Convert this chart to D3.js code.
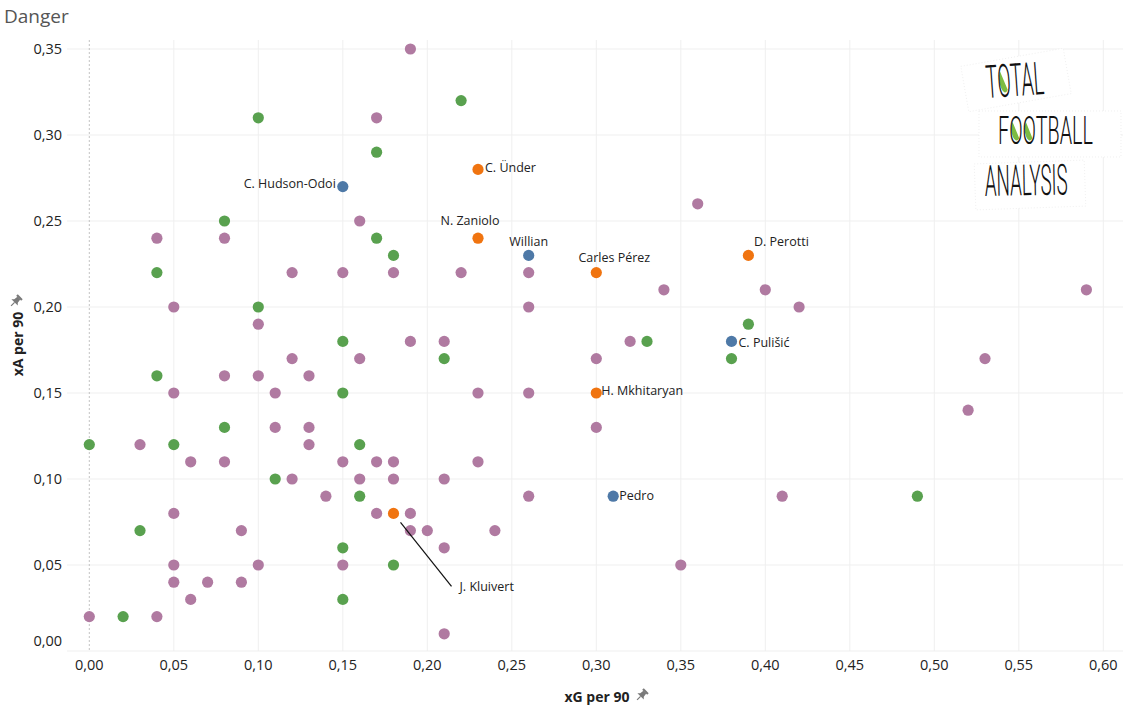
<!DOCTYPE html>
<html><head><meta charset="utf-8">
<script src="https://cdn.jsdelivr.net/npm/d3@7"></script>
<style>
body{margin:0;background:#fff;}
svg{display:block;font-family:'Open Sans','Noto Sans',sans-serif;}
</style></head><body><svg id="chart" width="1133" height="709"></svg>
<script>
// ---------------- data ----------------
const otherXG = [0.19,0.17,0.36,0.16,0.04,0.08,0.12,0.15,0.18,0.22,0.26,0.34,0.40,0.59,0.05,0.26,0.42,0.10,0.19,0.21,0.32,0.12,0.16,0.30,0.53,0.08,0.10,0.13,0.05,0.11,0.23,0.26,0.52,0.11,0.13,0.30,0.03,0.13,0.06,0.08,0.15,0.17,0.18,0.23,0.12,0.16,0.18,0.21,0.14,0.26,0.41,0.05,0.17,0.19,0.09,0.19,0.20,0.24,0.21,0.05,0.10,0.15,0.35,0.05,0.07,0.09,0.06,0.00,0.04,0.21];
const otherXA = [0.35,0.31,0.26,0.25,0.24,0.24,0.22,0.22,0.22,0.22,0.22,0.21,0.21,0.21,0.20,0.20,0.20,0.19,0.18,0.18,0.18,0.17,0.17,0.17,0.17,0.16,0.16,0.16,0.15,0.15,0.15,0.15,0.14,0.13,0.13,0.13,0.12,0.12,0.11,0.11,0.11,0.11,0.11,0.11,0.10,0.10,0.10,0.10,0.09,0.09,0.09,0.08,0.08,0.08,0.07,0.07,0.07,0.07,0.06,0.05,0.05,0.05,0.05,0.04,0.04,0.04,0.03,0.02,0.02,0.01];

const greenXG = [0.22,0.10,0.17,0.08,0.17,0.18,0.04,0.10,0.39,0.15,0.33,0.21,0.38,0.04,0.15,0.08,0.00,0.05,0.16,0.11,0.16,0.49,0.03,0.15,0.18,0.15,0.02];
const greenXA = [0.32,0.31,0.29,0.25,0.24,0.23,0.22,0.20,0.19,0.18,0.18,0.17,0.17,0.16,0.15,0.13,0.12,0.12,0.12,0.10,0.09,0.09,0.07,0.06,0.05,0.03,0.02];

const romaPlayers = ["C. Ünder","N. Zaniolo","D. Perotti","Carles Pérez","H. Mkhitaryan","J. Kluivert"];
const romaXG = [0.23,0.23,0.39,0.30,0.30,0.18];
const romaXA = [0.28,0.24,0.23,0.22,0.15,0.08];

const chelseaPlayers = ["C. Hudson-Odoi","Willian","C. Pulišić","Pedro"];
const chelseaXG = [0.15,0.26,0.38,0.31];
const chelseaXA = [0.27,0.23,0.18,0.09];

const xTicks = [0,0.05,0.10,0.15,0.20,0.25,0.30,0.35,0.40,0.45,0.50,0.55,0.60];
const xTickLabels = ["0,00","0,05","0,10","0,15","0,20","0,25","0,30","0,35","0,40","0,45","0,50","0,55","0,60"];
const yTicks = [0,0.05,0.10,0.15,0.20,0.25,0.30,0.35];
const yTickLabels = ["0,00","0,05","0,10","0,15","0,20","0,25","0,30","0,35"];

const titleText = "Danger";
const xTitle = "xG per 90";
const yTitle = "xA per 90";
const logoWords = ["TOTAL","FOOTBALL","ANALYSIS"];

// ---------------- styles / layout ----------------
const colors = {other:"#b07aa1", green:"#59a14f", roma:"#f07410", chelsea:"#4e79a7"};
const plot = {left:67, right:1123, top:40, bottom:651};
const labelStyle = {
  "C. Hudson-Odoi": {dx:-7, dy:-3, anchor:"end"},
  "C. Ünder": {dx:7, dy:-2, anchor:"start"},
  "N. Zaniolo": {dx:-8, dy:-18, anchor:"middle"},
  "Willian": {dx:0, dy:-14, anchor:"middle"},
  "Carles Pérez": {dx:18, dy:-15, anchor:"middle"},
  "D. Perotti": {dx:33, dy:-14, anchor:"middle"},
  "C. Pulišić": {dx:7, dy:1, anchor:"start"},
  "H. Mkhitaryan": {dx:5, dy:-2, anchor:"start"},
  "Pedro": {dx:6, dy:-1, anchor:"start"},
  "J. Kluivert": {dx:66, dy:73, anchor:"start", leader:{x1:7,y1:9,x2:58,y2:73}}
};

const svg = d3.select("#chart");
const x = d3.scaleLinear().domain([0,0.6]).range([89.3,1103.3]);
const y = d3.scaleLinear().domain([0,0.35]).range([651,49]);

// gridlines
const grid = svg.append("g");
grid.selectAll("line.v").data(xTicks.filter(d=>d>0)).join("line")
  .attr("x1",d=>x(d)).attr("x2",d=>x(d)).attr("y1",plot.top).attr("y2",plot.bottom)
  .attr("stroke","#efefef").attr("stroke-width",1);
grid.selectAll("line.h").data(yTicks).join("line")
  .attr("x1",plot.left).attr("x2",plot.right).attr("y1",d=>y(d)).attr("y2",d=>y(d))
  .attr("stroke","#efefef").attr("stroke-width",1);
grid.append("line").attr("x1",x(0)).attr("x2",x(0)).attr("y1",plot.top).attr("y2",plot.bottom)
  .attr("stroke","#c4c4c4").attr("stroke-width",1).attr("stroke-dasharray","2,2");

// logo (white patches + text)
const logo = svg.append("g").attr("class","logo");
function patch(cx,cy,w,h,rot){
  logo.append("rect").attr("x",cx-w/2).attr("y",cy-h/2).attr("width",w).attr("height",h)
    .attr("fill","#fff").attr("stroke","#e6e6e6").attr("stroke-width",0.6).attr("stroke-dasharray","1,2")
    .attr("transform",`rotate(${rot},${cx},${cy})`);
}
patch(1016,80,104,46,-10);
patch(1050,134,142,46,0);
patch(1030,185,110,46,-2);
function logoWord(txt,x0,yBase,w,h,rot,oIdx){
  const fs = 20;
  const g = logo.append("g");
  const greens = g.append("g");
  const t = g.append("text").attr("x",0).attr("y",0).text(txt)
    .attr("font-family","'Liberation Sans Narrow','Roboto','DejaVu Sans',sans-serif")
    .attr("font-weight","300").attr("font-size",fs).attr("fill","#111");
  const len = t.node().getComputedTextLength();
  const sx = w/len, sy = (h/0.72)/fs;
  g.attr("transform",`translate(${x0},${yBase}) rotate(${rot}) scale(${sx},${sy})`);
  oIdx.forEach(i=>{
    const e = t.node().getExtentOfChar(i);
    const cx = e.x+e.width/2, cy = -fs*0.36, rx = e.width*0.36, ry = fs*0.3;
    greens.append("path")
      .attr("d",`M${cx-rx*0.7},${cy-ry*0.7} A${rx},${ry} 0 0 0 ${cx+rx*0.7},${cy+ry*0.7} Z`)
      .attr("fill","#7dbb42");
  });
}
logoWord(logoWords[0],987,98,58,33,-4,[1]);
logoWord(logoWords[1],998,144,95,28,0,[1,2]);
logoWord(logoWords[2],985,196,83,31,-1,[]);

// dots
function dots(xs,ys,color){
  svg.append("g").selectAll("circle").data(xs.map((d,i)=>[d,ys[i]])).join("circle")
    .attr("cx",d=>x(d[0])).attr("cy",d=>y(d[1])).attr("r",5.6).attr("fill",color);
}
dots(otherXG,otherXA,colors.other);
dots(greenXG,greenXA,colors.green);
dots(romaXG,romaXA,colors.roma);
dots(chelseaXG,chelseaXA,colors.chelsea);

// labels
const labelled = romaPlayers.map((p,i)=>({name:p,xg:romaXG[i],xa:romaXA[i]}))
  .concat(chelseaPlayers.map((p,i)=>({name:p,xg:chelseaXG[i],xa:chelseaXA[i]})));
const lg = svg.append("g");
labelled.forEach(d=>{
  const s = labelStyle[d.name]; const cx = x(d.xg), cy = y(d.xa);
  if(s.leader){
    lg.append("line").attr("x1",cx+s.leader.x1).attr("y1",cy+s.leader.y1)
      .attr("x2",cx+s.leader.x2).attr("y2",cy+s.leader.y2).attr("stroke","#111").attr("stroke-width",1.2);
  }
  lg.append("text").attr("x",cx+s.dx).attr("y",cy+s.dy).attr("dy","0.35em")
    .attr("text-anchor",s.anchor).attr("font-size",12.5).attr("fill","#222").text(d.name);
});

// axis tick labels
svg.append("g").selectAll("text").data(xTicks).join("text")
  .attr("x",d=>x(d)).attr("y",665).attr("dy","0.35em").attr("text-anchor","middle")
  .attr("font-size",14.5).attr("fill","#222").text((d,i)=>xTickLabels[i]);
svg.append("g").selectAll("text").data(yTicks).join("text")
  .attr("x",62).attr("y",d=>Math.min(y(d),plot.bottom-10)).attr("dy","0.35em").attr("text-anchor","end")
  .attr("font-size",14.5).attr("fill","#222").text((d,i)=>yTickLabels[i]);

// titles
svg.append("text").attr("x",4).attr("y",23).attr("font-size",19).attr("fill","#555").text(titleText);
svg.append("text").attr("x",597).attr("y",697).attr("dy","0.35em").attr("text-anchor","middle")
  .attr("font-size",14).attr("font-weight","bold").attr("fill","#222").text(xTitle);
svg.append("text").attr("transform","translate(18,344) rotate(-90)").attr("dy","0.35em")
  .attr("text-anchor","middle").attr("font-size",14).attr("font-weight","bold").attr("fill","#222").text(yTitle);

// pin icons
function pin(px,py){
  const g = svg.append("g").attr("transform",`translate(${px},${py}) rotate(45)`).attr("fill","#7a7a7a");
  g.append("rect").attr("x",-3.5).attr("y",-6).attr("width",7).attr("height",2.2);
  g.append("path").attr("d","M-2,-4 L2,-4 L2.5,0 L4.5,2 L-4.5,2 L-2.5,0 Z");
  g.append("line").attr("x1",0).attr("y1",2).attr("x2",0).attr("y2",7).attr("stroke","#7a7a7a").attr("stroke-width",1.2);
}
pin(642,695);
pin(16,301);
</script></body></html>
